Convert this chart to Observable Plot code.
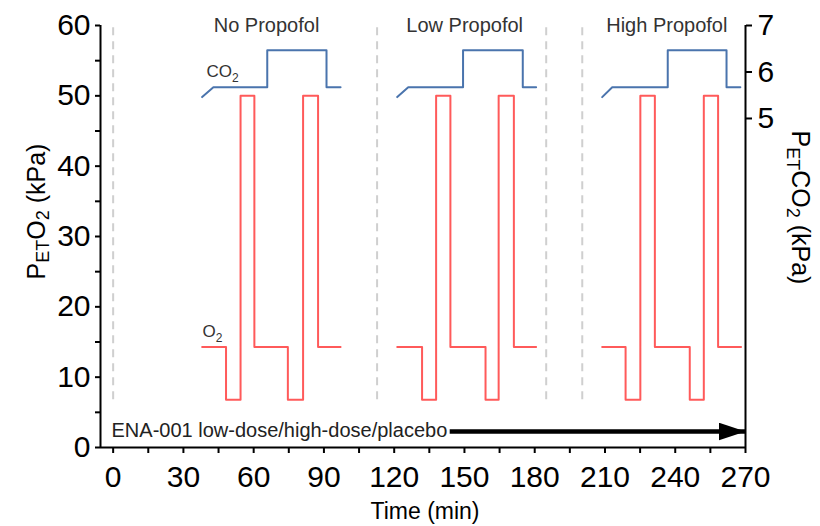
<!DOCTYPE html>
<html><head><meta charset="utf-8">
<script src="https://cdn.jsdelivr.net/npm/d3@7"></script>
<script src="https://cdn.jsdelivr.net/npm/@observablehq/plot@0.6"></script>
<style>body{margin:0;background:#fff;} svg{display:block}</style>
</head><body><div id="chart"></div>
<script>
// ---- data ----
const blocks = ["No Propofol", "Low Propofol", "High Propofol"];
const blockLabelTimes = [65.5, 150.1, 236.4];

const o2TimesNo   = [38.0, 48.2, 54.4, 60.3, 74.6, 81.1, 87.5, 97.1];
const o2TimesLow  = [121.3, 131.9, 137.9, 144.0, 159.0, 164.6, 171.1, 180.6];
const o2TimesHigh = [208.8, 218.8, 225.1, 231.3, 246.2, 252.2, 258.3, 268.1];
const o2Values    = [14.3, 6.8, 50, 14.3, 6.8, 50, 14.3, 14.3];

const co2TimesNo   = [38.0, 42.8, 65.8, 65.8, 91.1, 91.1, 97.1];
const co2TimesLow  = [121.3, 126.0, 149.4, 149.4, 174.9, 174.9, 180.6];
const co2TimesHigh = [208.8, 213.1, 236.8, 236.8, 261.9, 261.9, 267.8];
const co2Values    = [5.46, 5.67, 5.67, 6.47, 6.47, 5.67, 5.67];

const dividerTimes = [0, 112.7, 184.9, 200.3];

const xTickValues = [0, 15, 30, 45, 60, 75, 90, 105, 120, 135, 150, 165, 180, 195, 210, 225, 240, 255, 270];
const yTickValues = [0, 5, 10, 15, 20, 25, 30, 35, 40, 45, 50, 55, 60];
const co2TickValues = [5, 6, 7];

const drugLabel = "ENA-001 low-dose/high-dose/placebo";
const drugLabelPos = [-0.7, 1.45];
const drugArrowTimes = [143.7, 270];
const drugArrowLevel = 2.27;

const co2LabelPos = [40.1, 52.65];
const o2LabelPos = [38.4, 15.6];

// secondary (CO2) axis expressed on the primary O2 scale
const co2Top = 7, o2Top = 60, co2Ratio = 6.61;
const co2ToO2 = c => o2Top - (co2Top - c) * co2Ratio;
const o2ToCo2 = o => co2Top - (o2Top - o) / co2Ratio;

const o2Data = [];
[[blocks[0], o2TimesNo], [blocks[1], o2TimesLow], [blocks[2], o2TimesHigh]].forEach(([b, ts]) =>
  ts.forEach((t, i) => o2Data.push({block: b, t, v: o2Values[i]})));
const co2Data = [];
[[blocks[0], co2TimesNo], [blocks[1], co2TimesLow], [blocks[2], co2TimesHigh]].forEach(([b, ts]) =>
  ts.forEach((t, i) => co2Data.push({block: b, t, v: co2Values[i]})));

const font = "'Liberation Sans', Arial, sans-serif";

const plot = Plot.plot({
  width: 820, height: 526,
  marginLeft: 100, marginRight: 75, marginTop: 25, marginBottom: 79,
  x: {domain: [-5.4, 270]},
  y: {domain: [0, 60]},
  style: {fontFamily: font, background: "white", color: "black"},
  marks: [
    Plot.ruleX(dividerTimes, {y1: 6.8, y2: 60, stroke: "#cfcfcf", strokeWidth: 2, strokeDasharray: "8,6"}),
    Plot.line(o2Data, {x: "t", y: "v", z: "block", curve: "step-after", stroke: "#ff5a5a", strokeWidth: 2}),
    Plot.line(co2Data, {x: "t", y: d => co2ToO2(d.v), z: "block", stroke: "#4a74ad", strokeWidth: 2}),
    Plot.text(blocks, {x: (d, i) => blockLabelTimes[i], y: 60, text: d => d, fontSize: 20, fill: "#333", lineAnchor: "middle"}),
    Plot.text([drugLabel], {x: drugLabelPos[0], y: drugLabelPos[1], text: d => d, textAnchor: "start", lineAnchor: "bottom", fontSize: 20, fill: "#222"}),
    Plot.link([drugLabel], {x1: drugArrowTimes[0], x2: drugArrowTimes[1], y1: drugArrowLevel, y2: drugArrowLevel, stroke: "black", strokeWidth: 4.5}),
    Plot.ruleX([-5.4], {y1: 0, y2: 60, stroke: "black", strokeWidth: 2}),
    Plot.ruleX([270], {y1: 0, y2: 60, stroke: "black", strokeWidth: 2}),
    Plot.ruleY([0], {x1: -5.4, x2: 270, stroke: "black", strokeWidth: 2}),
    Plot.axisX(xTickValues, {anchor: "bottom", tickSize: 6, tickPadding: 12, fontSize: 30, strokeWidth: 2, tickFormat: d => d % 30 === 0 ? String(d) : "", label: null}),
    Plot.axisY(yTickValues, {anchor: "left", tickSize: 5, tickPadding: 5, fontSize: 30, strokeWidth: 2, tickFormat: d => d % 10 === 0 ? String(d) : "", label: null}),
    Plot.axisY(co2TickValues.map(co2ToO2), {anchor: "right", tickSize: 6, tickPadding: 6, fontSize: 30, strokeWidth: 2, tickFormat: d => String(Math.round(o2ToCo2(d))), label: null})
  ]
});
document.getElementById("chart").appendChild(plot);

const svg = d3.select(plot);
const xs = plot.scale("x"), ys = plot.scale("y");

// filled arrowhead
svg.append("defs").append("marker")
  .attr("id", "drug-head").attr("viewBox", "0 0 27 18").attr("refX", 27).attr("refY", 9)
  .attr("markerWidth", 27).attr("markerHeight", 18).attr("markerUnits", "userSpaceOnUse").attr("orient", "auto")
  .append("path").attr("d", "M0,0L27,9L0,18Z").attr("fill", "black");
svg.selectAll("g[aria-label='link'] path, g[aria-label='link'] line").attr("marker-end", "url(#drug-head)");

// series labels
function seriesLabel(pos, main) {
  const t = svg.append("text").attr("x", xs.apply(pos[0])).attr("y", ys.apply(pos[1]))
    .attr("text-anchor", "start").attr("font-family", font).attr("fill", "#333");
  t.append("tspan").attr("font-size", 17).text(main);
  t.append("tspan").attr("font-size", 12).attr("dy", 5).text("2");
}
seriesLabel(co2LabelPos, "CO");
seriesLabel(o2LabelPos, "O");

// axis titles
function axisTitle(x, y, rot) {
  return svg.append("text").attr("transform", `translate(${x},${y}) rotate(${rot})`)
    .attr("text-anchor", "middle").attr("font-family", font).attr("font-size", 25).attr("fill", "black");
}
const lt = axisTitle(45, 211.5, -90);
lt.append("tspan").text("P");
lt.append("tspan").attr("font-size", 18).attr("dy", 4).text("ET");
lt.append("tspan").attr("dy", -4).text("O");
lt.append("tspan").attr("font-size", 18).attr("dy", 4).text("2");
lt.append("tspan").attr("dy", -4).text(" (kPa)");

const rt = axisTitle(792, 207.5, 90);
rt.append("tspan").text("P");
rt.append("tspan").attr("font-size", 18).attr("dy", 5).text("ET");
rt.append("tspan").attr("dy", -5).text("CO");
rt.append("tspan").attr("font-size", 18).attr("dy", 5).text("2");
rt.append("tspan").attr("dy", -5).text(" (kPa)");

svg.append("text").attr("x", 425).attr("y", 519).attr("text-anchor", "middle")
  .attr("font-family", font).attr("font-size", 23).attr("fill", "black").text("Time (min)");
</script>
</body></html>
